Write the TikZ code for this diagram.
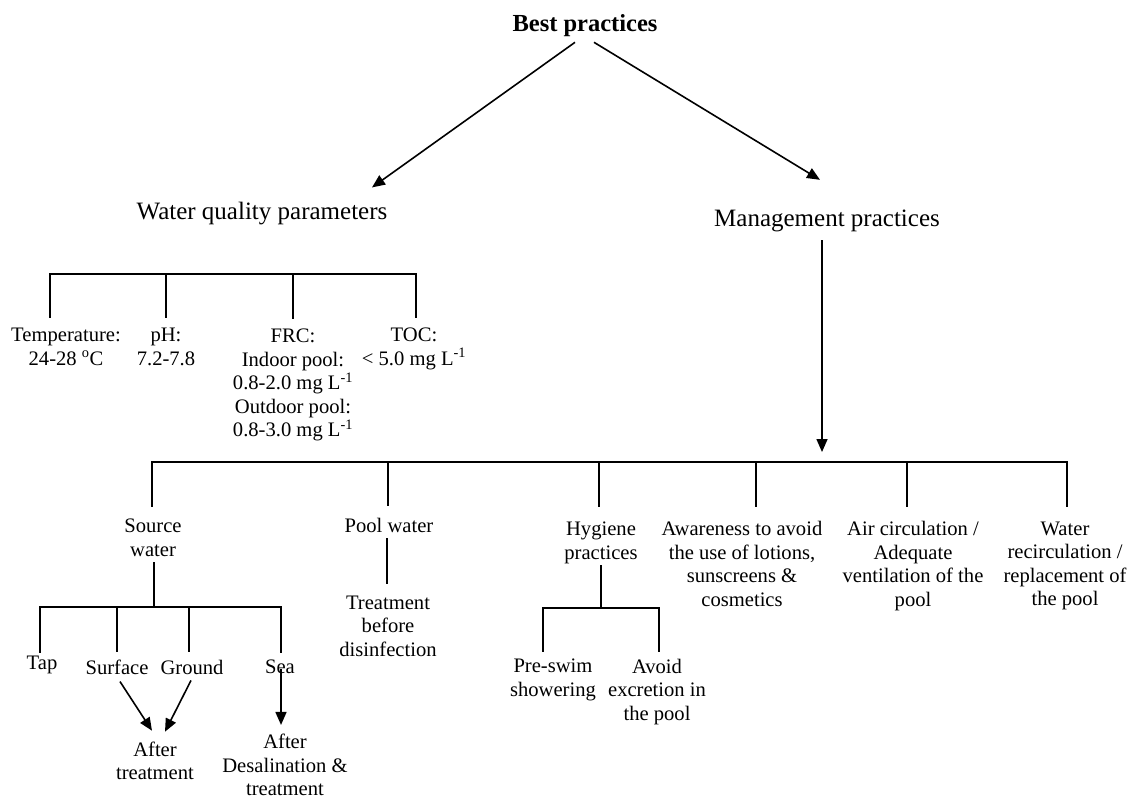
\documentclass[tikz,border=0pt]{standalone}
\usepackage{fontspec}
\setmainfont{Liberation Serif}
\usetikzlibrary{arrows.meta}
\begin{document}
\begin{tikzpicture}[x=1pt,y=-1pt,
  head/.style={font=\fontsize{25}{29}\selectfont, inner sep=0pt},
  lbl/.style={font=\fontsize{20.6}{23.5}\selectfont, align=center, inner sep=0pt},
  ln/.style={line width=1.6pt, line cap=rect},
  arr/.style={line width=1.6pt, -{Triangle[length=13pt,width=11pt]}}]
\useasboundingbox[fill=white] (0,0) rectangle (1131,796);

% headings
\node[font=\bfseries\fontsize{24.5}{28}\selectfont, inner sep=0pt] (bp) at (585,26) {Best practices};
\node[head] (wq) at (262,214) {Water quality parameters};
\node[head] (mp) at (827,221) {Management practices};

\draw[arr] ([shift={(-10,5)}]bp.south) -- ([shift={(110,-15)}]wq.north);
\draw[arr] ([shift={(9,5)}]bp.south) -- ([shift={(-7,-30)}]mp.north);

% water quality parameters
\node[lbl] (temp) at (66,347) {Temperature:\\24-28 \textsuperscript{o}C};
\node[lbl] (ph) at (166,347) {pH:\\7.2-7.8};
\node[lbl] (frc) at (293,385) {FRC:\\Indoor pool:\\0.8-2.0 mg L\textsuperscript{-1}\\Outdoor pool:\\0.8-3.0 mg L\textsuperscript{-1}};
\node[lbl] (toc) at (414,349) {TOC:\\< 5.0 mg L\textsuperscript{-1}};

\coordinate (w1) at (50,274);
\coordinate (w2) at (166,274);
\coordinate (w3) at (293,274);
\coordinate (w4) at (416,274);
\draw[ln] (w1) -- (w4);
\draw[ln, shorten >=11pt] (w1) -- (w1 |- temp.north);
\draw[ln, shorten >=11pt] (w2) -- (w2 |- ph.north);
\draw[ln, shorten >=11pt] (w3) -- (w3 |- frc.north);
\draw[ln, shorten >=11pt] (w4) -- (w4 |- toc.north);

% management practices
\coordinate (mj) at (822,462);
\draw[arr] ([shift={(-5,8)}]mp.south) -- ([yshift=10pt]mj);

\node[lbl] (src) at (153,538) {Source\\water};
\node[lbl] (pool) at (389,525) {Pool water};
\node[lbl] (hyg) at (601,543) {Hygiene\\practices};
\node[lbl] (aware) at (742,564) {Awareness to avoid\\the use of lotions,\\sunscreens \&\\cosmetics};
\node[lbl] (air) at (913,566) {Air circulation /\\Adequate\\ventilation of the\\pool};
\node[lbl] (recirc) at (1065,566) {Water\\recirculation /\\replacement of\\the pool};

\coordinate (m1) at (152,462);
\coordinate (m2) at (388,462);
\coordinate (m3) at (599,462);
\coordinate (m4) at (756,462);
\coordinate (m5) at (907,462);
\coordinate (m6) at (1067,462);
\draw[ln] (m1) -- (m6);
\draw[ln, shorten >=13pt] (m1) -- (m1 |- src.north);
\draw[ln, shorten >=12pt] (m2) -- (m2 |- pool.north);
\draw[ln, shorten >=16pt] (m3) -- (m3 |- hyg.north);
\draw[ln, shorten >=15pt] (m4) -- (m4 |- aware.north);
\draw[ln, shorten >=15pt] (m5) -- (m5 |- air.north);
\draw[ln, shorten >=15pt] (m6) -- (m6 |- recirc.north);

% pool water
\node[lbl] (treat) at (388,626) {Treatment\\before\\disinfection};
\draw[ln, shorten <=6pt, shorten >=12pt] (pool.south -| 387,0) -- (treat.north -| 387,0);

% source water
\node[lbl] (tap) at (42,665) {Tap};
\node[lbl] (surf) at (117,667) {Surface};
\node[lbl] (gnd) at (192,667) {Ground};
\node[lbl] (sea) at (280,667) {Sea};
\node[lbl] (aftt) at (155,761) {After\\treatment};
\node[lbl] (afds) at (285,765) {After\\Desalination \&\\treatment};

\coordinate (s0) at (154,607);
\coordinate (s1) at (40,607);
\coordinate (s2) at (117,607);
\coordinate (s3) at (189,607);
\coordinate (s4) at (281,607);
\draw[ln, shorten <=6pt] (src.south -| s0) -- (s0);
\draw[ln] (s1) -- (s4);
\draw[ln, shorten >=4pt] (s1) -- (s1 |- tap.north);
\draw[ln, shorten >=8pt] (s2) -- (s2 |- surf.north);
\draw[ln, shorten >=8pt] (s3) -- (s3 |- gnd.north);
\draw[ln, shorten >=8pt] (s4) -- (s4 |- sea.north);

\draw[arr] ([shift={(3,7)}]surf.south) -- ([shift={(-3,-11)}]aftt.north);
\draw[arr] ([shift={(-1,6)}]gnd.south) -- ([shift={(10,-10)}]aftt.north);
\draw[arr] ([shift={(1,2)}]sea.center) -- ([shift={(-4,-9)}]afds.north);

% hygiene
\node[lbl] (pre) at (553,680) {Pre-swim\\showering};
\node[lbl] (avoid) at (657,692) {Avoid\\excretion in\\the pool};
\coordinate (h0) at (601,608);
\coordinate (h1) at (543,608);
\coordinate (h2) at (659,608);
\draw[ln, shorten <=2pt] (hyg.south -| h0) -- (h0);
\draw[ln] (h1) -- (h2);
\draw[ln, shorten >=8pt] (h1) -- (h1 |- pre.north);
\draw[ln, shorten >=8pt] (h2) -- (h2 |- avoid.north);
\end{tikzpicture}
\end{document}
